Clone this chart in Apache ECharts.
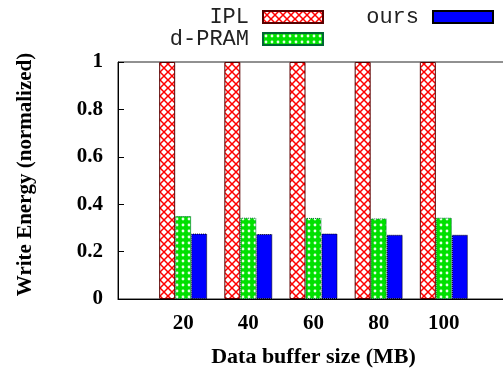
<!DOCTYPE html>
<html>
<head>
<meta charset="utf-8">
<script src="https://cdn.jsdelivr.net/npm/echarts@6/dist/echarts.min.js"></script>
<style>
  html, body { margin: 0; padding: 0; background: #fff; }
  #chart { width: 503px; height: 375px; }
</style>
</head>
<body>
<div id="chart"></div>
<script>
// 数据
const categories = ['20', '40', '60', '80', '100'];
const iplData = [1, 1, 1, 1, 1];
const dpramData = [0.35, 0.343, 0.342, 0.34, 0.343];
const oursData = [0.276, 0.274, 0.276, 0.271, 0.271];
const yTicks = [0, 0.2, 0.4, 0.6, 0.8, 1];

// 空白类别用于两端留白
const xCats = [''].concat(categories, ['']);
const pad = (arr) => ['-'].concat(arr, ['-']);

// 红色交叉网格填充
function crossPattern() {
  const c = document.createElement('canvas');
  c.width = 8; c.height = 8;
  const ctx = c.getContext('2d');
  ctx.fillStyle = '#fff';
  ctx.fillRect(0, 0, 8, 8);
  ctx.strokeStyle = '#ff0000';
  ctx.lineWidth = 1.5;
  ctx.beginPath();
  ctx.moveTo(-1, -1); ctx.lineTo(9, 9);
  ctx.moveTo(9, -1); ctx.lineTo(-1, 9);
  ctx.stroke();
  return { image: c, repeat: 'repeat' };
}

// 绿色圆点填充
function dotPattern() {
  const c = document.createElement('canvas');
  c.width = 6; c.height = 6;
  const ctx = c.getContext('2d');
  ctx.fillStyle = '#00e000';
  ctx.fillRect(0, 0, 6, 6);
  ctx.fillStyle = '#e8ffe8';
  ctx.beginPath();
  ctx.arc(3, 3, 1.4, 0, Math.PI * 2);
  ctx.fill();
  return { image: c, repeat: 'repeat' };
}

const serifBold = { fontFamily: 'Liberation Serif', fontWeight: 'bold', color: '#000' };
const legendText = { fontFamily: 'Liberation Mono', fontSize: 22, color: '#222', padding: [0, 9, 0, 0] };

const legendBase = {
  orient: 'horizontal',
  align: 'right',
  icon: 'rect',
  padding: 0,
  itemWidth: 60,
  itemHeight: 12,
  selectedMode: false,
  textStyle: legendText
};

const option = {
  animation: false,
  backgroundColor: '#fff',
  legend: [
    Object.assign({}, legendBase, { data: ['IPL'], right: 179, top: 6 }),
    Object.assign({}, legendBase, { data: ['ours'], right: 9, top: 6 }),
    Object.assign({}, legendBase, { data: ['d-PRAM'], right: 179, top: 28 })
  ],
  grid: {
    left: 118,
    width: 391,
    top: 62,
    bottom: 76,
    outerBoundsMode: 'none',
    containLabel: false,
    show: true,
    borderColor: '#222',
    borderWidth: 1
  },
  xAxis: {
    type: 'category',
    data: xCats,
    boundaryGap: false,
    axisLine: { lineStyle: { color: '#000', width: 1 } },
    axisTick: { show: false },
    axisLabel: Object.assign({ fontSize: 21, margin: 14, interval: 0 }, serifBold),
    name: 'Data buffer size (MB)',
    nameLocation: 'middle',
    nameGap: 47,
    nameTextStyle: Object.assign({ fontSize: 22 }, serifBold)
  },
  yAxis: [{
    type: 'value',
    min: 0,
    max: 1,
    interval: 0.2,
    axisLine: { show: true, lineStyle: { color: '#000', width: 1 } },
    axisTick: { show: true, inside: true, length: 6, lineStyle: { color: '#000' } },
    splitLine: { show: false },
    axisLabel: Object.assign({
      fontSize: 21,
      margin: 15,
      formatter: (v) => yTicks.indexOf(v) >= 0 ? String(v) : ''
    }, serifBold),
    name: 'Write Energy (normalized)',
    nameLocation: 'middle',
    nameGap: 82,
    nameRotate: 90,
    nameTextStyle: Object.assign({ fontSize: 21, padding: [0, 0, 0, 12] }, serifBold)
  }, {
    type: 'value',
    position: 'right',
    min: 0,
    max: 1,
    interval: 0.2,
    axisLine: { show: false },
    axisTick: { show: true, inside: true, length: 6, lineStyle: { color: '#999' } },
    splitLine: { show: false },
    axisLabel: { show: false }
  }],
  series: [{
    name: 'IPL',
    type: 'bar',
    data: pad(iplData),
    barWidth: 16,
    barGap: '0%',
    itemStyle: { color: crossPattern(), borderColor: '#5a0000', borderWidth: 1 }
  }, {
    name: 'd-PRAM',
    type: 'bar',
    data: pad(dpramData),
    barWidth: 16,
    barGap: '0%',
    itemStyle: { color: dotPattern(), borderColor: '#063', borderWidth: 1, borderType: 'dotted' }
  }, {
    name: 'ours',
    type: 'bar',
    data: pad(oursData),
    barWidth: 16,
    barGap: '0%',
    itemStyle: { color: '#0000ff', borderColor: '#000', borderWidth: 1, borderType: 'dotted' }
  }]
};

const myChart = echarts.init(document.getElementById('chart'), null, { renderer: 'canvas' });
myChart.setOption(option);
</script>
</body>
</html>
